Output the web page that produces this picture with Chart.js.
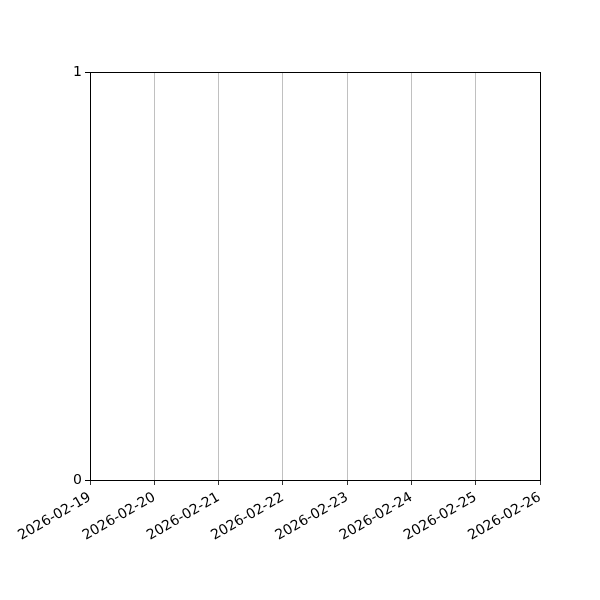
<!DOCTYPE html>
<html><head><meta charset="utf-8">
<style>html,body{margin:0;padding:0;background:#fff}#wrap{width:600px;height:600px}</style>
<script src="https://cdn.jsdelivr.net/npm/chart.js@4/dist/chart.umd.min.js"></script>
</head><body><div id="wrap"><canvas id="c" width="600" height="600"></canvas></div>
<script>
const categories = ['2026-02-19','2026-02-20','2026-02-21','2026-02-22','2026-02-23','2026-02-24','2026-02-25','2026-02-26'];
const seriesValues = [];
const yTicks = [0, 1];

const frame = {
  id: 'frame',
  afterDraw(chart) {
    const {ctx, chartArea: a} = chart;
    ctx.save();
    ctx.strokeStyle = '#000';
    ctx.lineWidth = 1;
    ctx.strokeRect(Math.round(a.left) + 0.5, Math.round(a.top) + 0.5, Math.round(a.right - a.left), Math.round(a.bottom - a.top));
    ctx.restore();
  }
};

new Chart(document.getElementById('c'), {
  type: 'line',
  data: { labels: categories, datasets: [{ data: seriesValues, borderColor: '#1f77b4' }] },
  options: {
    responsive: false,
    animation: false,
    layout: { padding: { left: 0, right: 60, top: 72, bottom: 0 } },
    plugins: { legend: { display: false }, tooltip: { enabled: false } },
    scales: {
      x: {
        type: 'category',
        offset: false,
        afterFit(s) { s.height = 120; },
        grid: {
          offset: false,
          color: ctx => (ctx.index === 0 || ctx.index === categories.length - 1) ? 'rgba(0,0,0,0)' : '#b0b0b0',
          lineWidth: 0.8,
          tickColor: '#000',
          tickLength: 5,
          drawTicks: true
        },
        border: { display: false },
        ticks: {
          color: '#000',
          font: { family: 'DejaVu Sans', size: 14 },
          minRotation: 30, maxRotation: 30,
          autoSkip: false,
          padding: 4
        }
      },
      y: {
        min: 0, max: 1,
        afterFit(s) { s.width = 90; },
        afterBuildTicks(s) { s.ticks = yTicks.map(v => ({ value: v })); },
        grid: { drawOnChartArea: false, tickColor: '#000', tickLength: 5 },
        border: { display: false },
        ticks: {
          color: '#000',
          font: { family: 'DejaVu Sans', size: 14 },
          padding: 3
        }
      }
    }
  },
  plugins: [frame]
});
</script>
</body></html>
